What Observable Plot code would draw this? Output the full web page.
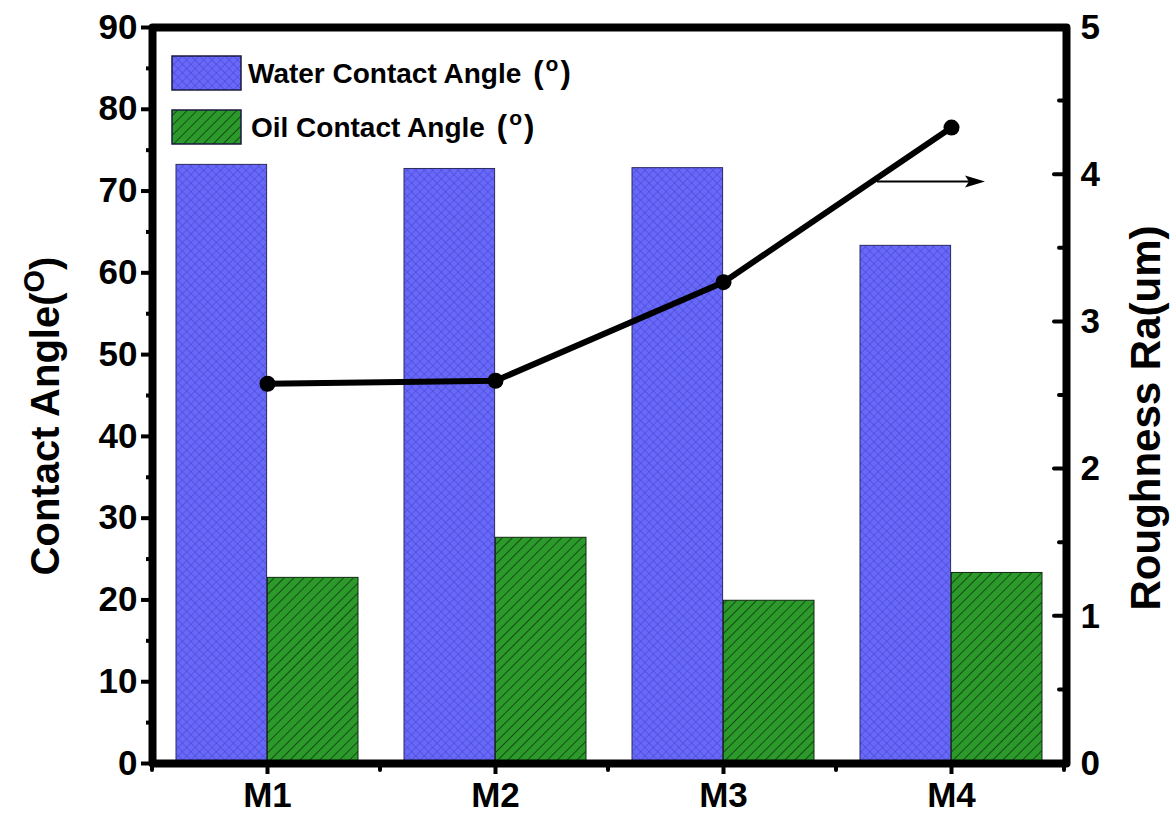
<!DOCTYPE html>
<html><head><meta charset="utf-8">
<script src="https://cdn.jsdelivr.net/npm/d3@7"></script>
<script src="https://cdn.jsdelivr.net/npm/@observablehq/plot@0.6"></script>
<style>
body{margin:0;background:#fff}
#chart svg{font-family:"Liberation Sans",Arial,Helvetica,sans-serif;background:#fff}
</style>
</head><body><div id="chart"></div>
<script>
// ---- data ----
const samples = ["M1", "M2", "M3", "M4"];
const waterAngle = [73.2, 72.7, 72.8, 63.3];
const oilAngle = [22.7, 27.6, 19.9, 23.3];
const roughness = [2.58, 2.60, 3.27, 4.32];
const leftTicks = [0, 10, 20, 30, 40, 50, 60, 70, 80, 90];
const leftMinor = [5, 15, 25, 35, 45, 55, 65, 75, 85];
const rightTicks = [0, 1, 2, 3, 4, 5];
const rightMinor = [0.5, 1.5, 2.5, 3.5, 4.5];
const legendLabels = ["Water Contact Angle", "Oil Contact Angle"];
const leftTitle = "Contact Angle(";
const rightTitle = "Roughness Ra(um)";
const arrowRa = 3.95; // arrow pointing to the right axis, in roughness units

const K = 90 / 5; // left domain / right domain
const rows = samples.map((s, i) => ({sample: s, water: waterAngle[i], oil: oilAngle[i], ra: roughness[i]}));

const W = 1172, H = 828;
const mL = 152, mR = 106, mT = 27, mB = 65;
const bw = (W - mL - mR) / samples.length * 0.8;
const font = {fontSize: 35, fontWeight: "bold"};

const plot = Plot.plot({
  width: W, height: H,
  marginLeft: mL, marginRight: mR, marginTop: mT, marginBottom: mB,
  style: {background: "#fff", color: "#000", overflow: "visible"},
  x: {domain: samples, paddingInner: 0.2, paddingOuter: 0.1},
  y: {domain: [0, 90]},
  marks: [
    Plot.barY(rows, {x: "sample", y: "water", fill: "url(#blueHatch)", stroke: "#2a2a60", strokeWidth: 1, insetRight: bw / 2}),
    Plot.barY(rows, {x: "sample", y: "oil", fill: "url(#greenHatch)", stroke: "#102a10", strokeWidth: 1, insetLeft: bw / 2}),
    Plot.line(rows, {x: "sample", y: d => d.ra * K, stroke: "#000", strokeWidth: 6}),
    Plot.dot(rows, {x: "sample", y: d => d.ra * K, r: 8, fill: "#000"}),
    Plot.axisY({ticks: leftTicks, tickSize: 11, tickPadding: 4, strokeWidth: 4, label: null, ...font}),
    Plot.axisY({ticks: leftMinor, tickSize: 6, tickFormat: () => "", strokeWidth: 4, label: null}),
    Plot.axisY({anchor: "right", ticks: rightTicks.map(v => v * K), tickFormat: d => d / K, tickSize: 0, tickPadding: 14, label: null, ...font}),
    Plot.axisX({tickSize: 11, tickPadding: 8, strokeWidth: 4, label: null, ...font}),
    Plot.frame({stroke: "#000", strokeWidth: 8, strokeLinejoin: "round"})
  ]
});
document.getElementById("chart").append(plot);

// ---- extras drawn from the plot's own scales ----
const svg = d3.select(plot);
const xs = plot.scale("x"), ys = plot.scale("y");
const X = s => xs.apply(s), Y = v => ys.apply(v);
const step = xs.step, bwid = xs.bandwidth;

const defs = svg.insert("defs", ":first-child");
const pb = defs.append("pattern").attr("id", "blueHatch").attr("patternUnits", "userSpaceOnUse")
  .attr("width", 6).attr("height", 6).attr("patternTransform", "rotate(45)");
pb.append("rect").attr("width", 6).attr("height", 6).attr("fill", "#6868fa");
pb.append("line").attr("x1", 0).attr("y1", 0).attr("x2", 0).attr("y2", 6).attr("stroke", "#4646c8").attr("stroke-width", 1.1);
pb.append("line").attr("x1", 0).attr("y1", 0).attr("x2", 6).attr("y2", 0).attr("stroke", "#4646c8").attr("stroke-width", 1.1);
const pg = defs.append("pattern").attr("id", "greenHatch").attr("patternUnits", "userSpaceOnUse")
  .attr("width", 7).attr("height", 7).attr("patternTransform", "rotate(45)");
pg.append("rect").attr("width", 7).attr("height", 7).attr("fill", "#2b9a2b");
pg.append("line").attr("x1", 0).attr("y1", 0).attr("x2", 0).attr("y2", 7).attr("stroke", "#0c2a0c").attr("stroke-width", 1.4);

const g = svg.append("g").attr("text-anchor", "start");
// right axis inward ticks
const xRight = W - mR;
rightTicks.forEach(v => g.append("line").attr("x1", xRight).attr("x2", xRight - 12).attr("y1", Y(v * K)).attr("y2", Y(v * K)).attr("stroke", "#000").attr("stroke-width", 4).attr("stroke-linecap", "round"));
rightMinor.forEach(v => g.append("line").attr("x1", xRight).attr("x2", xRight - 7).attr("y1", Y(v * K)).attr("y2", Y(v * K)).attr("stroke", "#000").attr("stroke-width", 4).attr("stroke-linecap", "round"));
// bottom minor ticks at band boundaries
const yBot = H - mB;
d3.range(samples.length + 1).forEach(i => {
  const x = mL + i * step;
  g.append("line").attr("x1", x).attr("x2", x).attr("y1", yBot).attr("y2", yBot + 7).attr("stroke", "#000").attr("stroke-width", 4).attr("stroke-linecap", "round");
});
// arrow toward the right axis
const ax = X("M4") + bwid / 2, ay = Y(arrowRa * K);
g.append("line").attr("x1", ax - 74).attr("x2", ax + 22).attr("y1", ay).attr("y2", ay).attr("stroke", "#000").attr("stroke-width", 2);
g.append("path").attr("d", `M${ax + 34},${ay} L${ax + 14},${ay - 6} L${ax + 18},${ay} L${ax + 14},${ay + 6} Z`).attr("fill", "#000");

// legend
const legendFills = ["url(#blueHatch)", "url(#greenHatch)"];
legendLabels.forEach((lab, i) => {
  const y0 = 56 + i * 54;
  g.append("rect").attr("x", 172).attr("y", y0).attr("width", 69).attr("height", 34)
    .attr("fill", legendFills[i]).attr("stroke", "#1a1a40").attr("stroke-width", 1.5);
  const t = g.append("text").attr("x", 248 + i * 3).attr("y", y0 + 27).attr("text-anchor", "start")
    .attr("font-size", 28).attr("font-weight", "bold").attr("fill", "#000");
  t.append("tspan").text(lab);
  t.append("tspan").attr("dx", 12).attr("font-size", 31).text("(");
  t.append("tspan").attr("dx", 2).attr("dy", -12).attr("font-size", 21).text("o");
  t.append("tspan").attr("dx", 2).attr("dy", 12).attr("font-size", 31).text(")");
});

// axis titles
const cy = 416;
const lt = g.append("text").attr("transform", `translate(59,${cy}) rotate(-90)`)
  .attr("text-anchor", "middle").attr("font-size", 40).attr("font-weight", "bold").attr("fill", "#000");
lt.append("tspan").text(leftTitle);
lt.append("tspan").attr("dy", -15).attr("font-size", 29).text("O");
lt.append("tspan").attr("dy", 15).text(")");
g.append("text").attr("transform", `translate(1160,${cy + 2}) rotate(-90)`)
  .attr("text-anchor", "middle").attr("font-size", 42).attr("font-weight", "bold").attr("fill", "#000").text(rightTitle);
</script>
</body></html>
